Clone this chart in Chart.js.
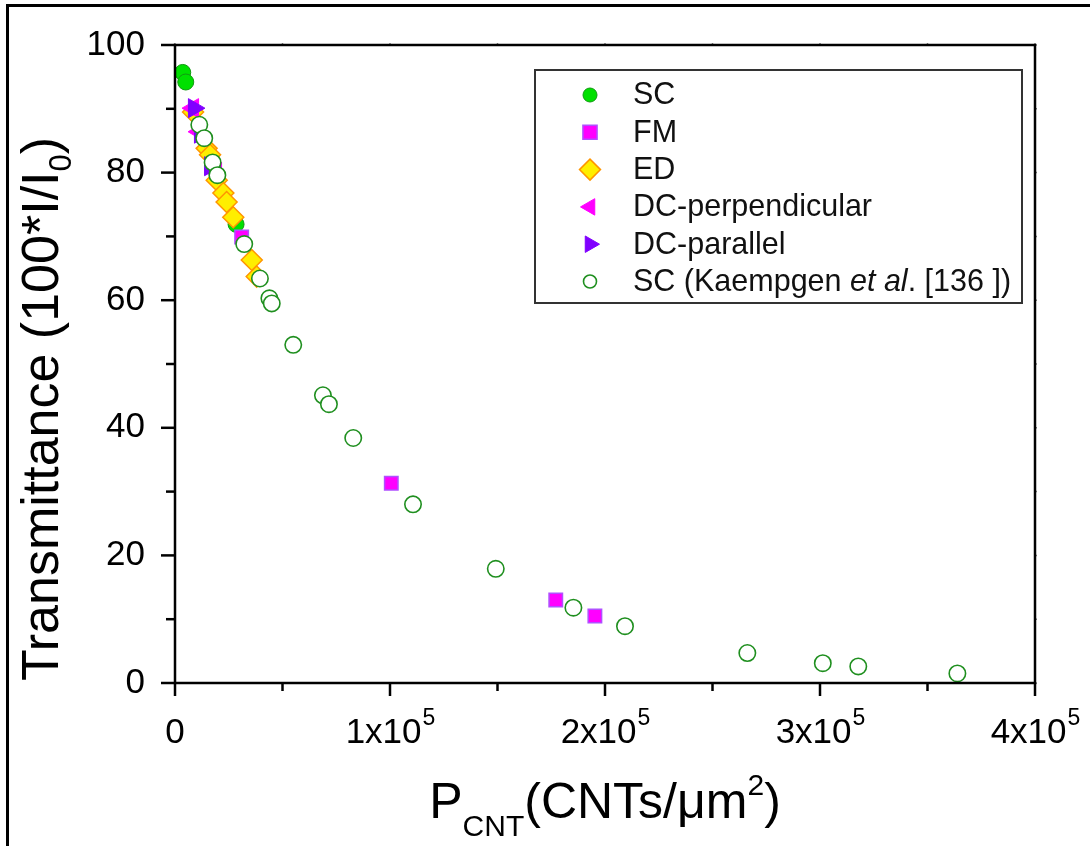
<!DOCTYPE html>
<html><head><meta charset="utf-8">
<script src="https://cdn.jsdelivr.net/npm/chart.js@4.4.1/dist/chart.umd.min.js"></script>
<style>html,body{margin:0;padding:0;background:#fff;}canvas{display:block;}</style>
</head><body>
<canvas id="c" width="1090" height="846"></canvas>
<script>
// ---- data (x in CNTs/um^2, y = transmittance %) ----
const scX = [3600, 5000, 28400];
const scY = [95.7, 94.2, 71.9];
const fmX = [31000, 100600, 177100, 195300];
const fmY = [69.9, 31.3, 13.0, 10.5];
const edX = [8400, 14700, 16300, 19400, 22500, 24000, 27100, 35700, 38000];
const edY = [89.5, 83.8, 82.8, 78.8, 76.8, 75.4, 73.0, 66.3, 63.7];
const dcPerpX = [8400, 11200, 19100];
const dcPerpY = [90.1, 86.4, 80.1];
const dcParX = [8800, 11600, 16300];
const dcParY = [90.1, 86.1, 81.0];
const kX = [11300, 13600, 17500, 19700, 32200, 39500, 43900, 45000, 55000, 68800, 71600, 82900, 110700, 149200, 185300, 209300, 266200, 301300, 317800, 363900];
const kY = [87.5, 85.4, 81.6, 79.6, 68.8, 63.4, 60.3, 59.5, 53.0, 45.1, 43.7, 38.4, 28.0, 17.9, 11.8, 8.9, 4.7, 3.1, 2.6, 1.5];
const legendLabels = ['SC', 'FM', 'ED', 'DC-perpendicular', 'DC-parallel', 'SC (Kaempgen et al. [136 ])'];
const yTickLabels = [0, 20, 40, 60, 80, 100];
const xTickMantissas = [0, 1, 2, 3, 4]; // x 10^5

const FONT = "'Liberation Sans', Arial, sans-serif";
const pts = (xs, ys) => xs.map((x, i) => ({x: x, y: ys[i]}));

const datasets = [
  {label: legendLabels[0], data: pts(scX, scY), pointStyle: 'circle', pointRadius: 8,
   backgroundColor: '#00e000', borderColor: '#119911', pointBorderWidth: 1, order: 6},
  {label: legendLabels[1], data: pts(fmX, fmY), pointStyle: 'rect', pointRadius: 9.5,
   backgroundColor: '#ff00ff', borderColor: '#b050ff', pointBorderWidth: 1.5, order: 4},
  {label: legendLabels[2], data: pts(edX, edY), pointStyle: 'rectRot', pointRadius: 10.5,
   backgroundColor: '#ffee00', borderColor: '#ff9500', pointBorderWidth: 1.5, order: 5},
  {label: legendLabels[3], data: pts(dcPerpX, dcPerpY), pointStyle: 'triangle', rotation: -90, pointRadius: 11,
   backgroundColor: '#ff00ff', borderColor: '#ff00ff', pointBorderWidth: 1, order: 3},
  {label: legendLabels[4], data: pts(dcParX, dcParY), pointStyle: 'triangle', rotation: 90, pointRadius: 11,
   backgroundColor: '#8000ff', borderColor: '#8000ff', pointBorderWidth: 1, order: 2},
  {label: legendLabels[5], data: pts(kX, kY), pointStyle: 'circle', pointRadius: 8.2,
   backgroundColor: '#ffffff', borderColor: '#1f8f1f', pointBorderWidth: 1.6, order: 1}
];

function drawMarker(ctx, ds, x, y, r) {
  const opts = {pointStyle: ds.pointStyle, radius: r, rotation: ds.rotation || 0, borderWidth: ds.pointBorderWidth};
  ctx.save();
  ctx.fillStyle = ds.backgroundColor;
  ctx.strokeStyle = ds.borderColor;
  ctx.lineWidth = ds.pointBorderWidth;
  Chart.helpers.drawPoint(ctx, opts, x, y);
  ctx.restore();
}

const decor = {
  id: 'decor',
  afterDraw(chart) {
    const ctx = chart.ctx, a = chart.chartArea, xs = chart.scales.x, ys = chart.scales.y;
    ctx.save();
    // outer frame
    ctx.strokeStyle = '#000';
    ctx.lineWidth = 3;
    ctx.strokeRect(7.5, 5.5, 1120, 900);
    // plot box
    ctx.lineWidth = 2.5;
    ctx.strokeRect(a.left, a.top, a.right - a.left, a.bottom - a.top);
    // ticks
    ctx.lineCap = 'butt';
    xs.ticks.forEach(t => {
      const px = xs.getPixelForValue(t.value);
      const major = Math.abs(t.value % 100000) < 1;
      ctx.lineWidth = 2.5;
      ctx.beginPath(); ctx.moveTo(px, a.bottom); ctx.lineTo(px, a.bottom + (major ? 13 : 8)); ctx.stroke();
      ctx.lineWidth = 1.5;
      ctx.beginPath(); ctx.moveTo(px, a.top); ctx.lineTo(px, a.top - 1.5); ctx.stroke();
    });
    ys.ticks.forEach(t => {
      const py = ys.getPixelForValue(t.value);
      const major = Math.abs(t.value % 20) < 0.01;
      ctx.lineWidth = 2.5;
      ctx.beginPath(); ctx.moveTo(a.left, py); ctx.lineTo(a.left - (major ? 14 : 9), py); ctx.stroke();
      ctx.lineWidth = 1.5;
      ctx.beginPath(); ctx.moveTo(a.right, py); ctx.lineTo(a.right + 1.5, py); ctx.stroke();
    });
    // x tick labels
    ctx.fillStyle = '#000';
    ctx.textBaseline = 'alphabetic';
    xTickMantissas.forEach(m => {
      const px = xs.getPixelForValue(m * 100000);
      if (m === 0) {
        ctx.font = '35px ' + FONT; ctx.textAlign = 'center';
        ctx.fillText('0', px, 743);
        return;
      }
      ctx.font = '35px ' + FONT;
      const base = m + 'x10';
      const w1 = ctx.measureText(base).width;
      ctx.font = '23px ' + FONT;
      const w2 = ctx.measureText('5').width;
      const x0 = px - (w1 + w2) / 2;
      ctx.textAlign = 'left';
      ctx.font = '35px ' + FONT;
      ctx.fillText(base, x0, 743);
      ctx.font = '23px ' + FONT;
      ctx.fillText('5', x0 + w1 + 1, 725);
    });
    // x axis title: P_CNT(CNTs/um^2)
    {
      const F = '50px ' + FONT, S = '30px ' + FONT;
      const parts = [['P', F, 0], ['CNT', S, 18], ['(CNTs/\u03bcm', F, 0], ['2', S, -23], [')', F, 0]];
      let total = 0;
      parts.forEach(p => { ctx.font = p[1]; p.push(ctx.measureText(p[0]).width); total += p[3]; });
      let x = (a.left + a.right) / 2 - total / 2;
      ctx.textAlign = 'left';
      parts.forEach(p => { ctx.font = p[1]; ctx.fillText(p[0], x, 818 + p[2]); x += p[3]; });
    }
    // y axis title
    {
      ctx.save();
      ctx.translate(58, 409);
      ctx.rotate(-Math.PI / 2);
      const F = '52px ' + FONT, S = '31px ' + FONT;
      const parts = [['Transmittance (100*I/I', F, 0], ['0', S, 13], [')', F, 0]];
      let total = 0;
      parts.forEach(p => { ctx.font = p[1]; p.push(ctx.measureText(p[0]).width); total += p[3]; });
      let x = -total / 2;
      ctx.textAlign = 'left';
      parts.forEach(p => { ctx.font = p[1]; ctx.fillText(p[0], x, p[2]); x += p[3]; });
      ctx.restore();
    }
    // legend
    ctx.lineWidth = 2;
    ctx.strokeStyle = '#333';
    ctx.strokeRect(535, 70, 487, 233);
    const legR = [7, 10, 10.5, 9.5, 9.5, 6.5];
    chart.data.datasets.forEach((ds, i) => {
      const cy = 95 + i * 37.3;
      drawMarker(ctx, ds, 590, cy, legR[i]);
      ctx.fillStyle = '#111';
      ctx.textAlign = 'left';
      ctx.textBaseline = 'middle';
      if (i === 5) {
        const segs = [['SC (Kaempgen ', 'normal'], ['et al', 'italic'], ['. [136 ])', 'normal']];
        let x = 633;
        segs.forEach(s => {
          ctx.font = (s[1] === 'italic' ? 'italic ' : '') + '30.5px ' + FONT;
          ctx.fillText(s[0], x, cy + 1);
          x += ctx.measureText(s[0]).width;
        });
      } else {
        ctx.font = '30.5px ' + FONT;
        ctx.fillText(ds.label, 633, cy + 1);
      }
    });
    ctx.restore();
  }
};

new Chart(document.getElementById('c'), {
  type: 'scatter',
  data: {datasets: datasets},
  options: {
    responsive: false,
    devicePixelRatio: 1,
    animation: false,
    events: [],
    layout: {padding: {left: 0, top: 45, right: 55, bottom: 0}},
    plugins: {legend: {display: false}, tooltip: {enabled: false}},
    scales: {
      x: {
        type: 'linear', min: 0, max: 400000,
        grid: {display: false}, border: {display: false},
        ticks: {stepSize: 50000, autoSkip: false, callback: () => ''},
        afterFit: s => { s.height = 163; }
      },
      y: {
        type: 'linear', min: 0, max: 100,
        grid: {display: false}, border: {display: false},
        ticks: {
          stepSize: 10, autoSkip: false, padding: 22, color: '#000',
          font: {size: 35, family: FONT},
          callback: v => (yTickLabels.includes(v) ? String(v) : '')
        },
        afterFit: s => { s.width = 175; }
      }
    }
  },
  plugins: [decor]
});
</script>
</body></html>
